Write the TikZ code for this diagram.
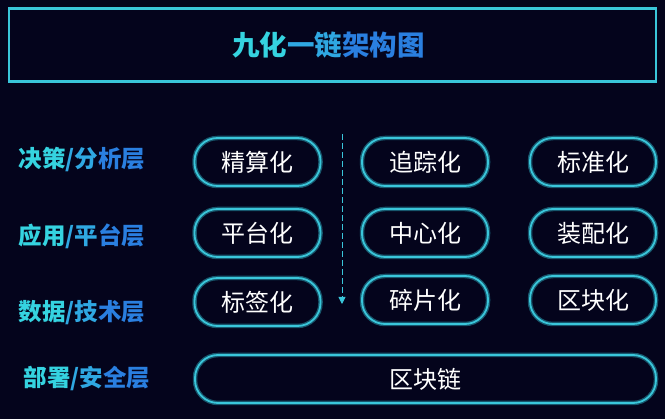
\documentclass[tikz,border=0pt]{standalone}
\usepackage{fontspec}
\newfontfamily\cjk{Noto Sans CJK SC}
\usetikzlibrary{arrows.meta}
\definecolor{bg}{HTML}{04041C}
\definecolor{edge}{HTML}{3AC6DA}
\definecolor{glow}{HTML}{17566C}
\definecolor{ca}{HTML}{35D3E0}
\definecolor{cb}{HTML}{2FA8E2}
\definecolor{cc}{HTML}{2A7FE0}
\tikzset{
  pill/.style={draw=edge, line width=1.8pt, rounded corners=23pt,
    preaction={draw=glow, line width=4.5pt},
    minimum width=126pt, minimum height=48pt, inner sep=0pt,
    text=white, font=\cjk\fontsize{24}{24}\selectfont},
  layer/.style={inner sep=0pt, font=\cjk\bfseries\fontsize{23.5}{23.5}\selectfont},
}
\newcommand{\tricol}[3]{{\color{ca}#1}{\color{cb}#2}{\color{cc}#3}}
\begin{document}
\begin{tikzpicture}[x=1pt,y=-1pt]
  \fill[bg] (0,0) rectangle (665,419);
  \useasboundingbox (0,0) rectangle (665,419);
  % title
  \node[draw=edge, line width=2.5pt, minimum width=647pt, minimum height=73pt] (title) at (332.5,45) {};
  \node[font=\cjk\bfseries\fontsize{27.5}{27.5}\selectfont] (titletext) at (328.5,45)
    {\tricol{九化}{一链}{架构图}};
  % layers
  \node[layer] (dec) at (82,160) {\tricol{决策}{/分}{析层}};
  \node[layer] (app) at (82,236) {\tricol{应用}{/平}{台层}};
  \node[layer] (dat) at (82,313) {\tricol{数据}{/技}{术层}};
  \node[layer] (dep) at (87,378) {\tricol{部署}{/安}{全层}};
  % pills
  \node[pill] (jingsuan) at (257.5,162) {精算化};
  \node[pill] (pingtai)  at (257.5,233) {平台化};
  \node[pill] (biaoqian) at (257.5,302) {标签化};
  \node[pill] (zhuizong) at (425,162) {追踪化};
  \node[pill] (zhongxin) at (425,233) {中心化};
  \node[pill] (suipian)  at (425,300) {碎片化};
  \node[pill] (biaozhun) at (593,162) {标准化};
  \node[pill] (zhuangpei) at (593,233) {装配化};
  \node[pill] (qukuai)   at (593,300) {区块化};
  \node[pill, minimum width=461pt] (lian) at (425.5,379) {区块链};
  % arrow
  \coordinate (atop) at (342,134);
  \coordinate (abot) at (342,304);
  \draw[edge, line width=0.9pt, dash pattern=on 6pt off 3pt,
    -{Triangle[length=7pt,width=7pt]}] (atop) -- (abot);
\end{tikzpicture}
\end{document}
